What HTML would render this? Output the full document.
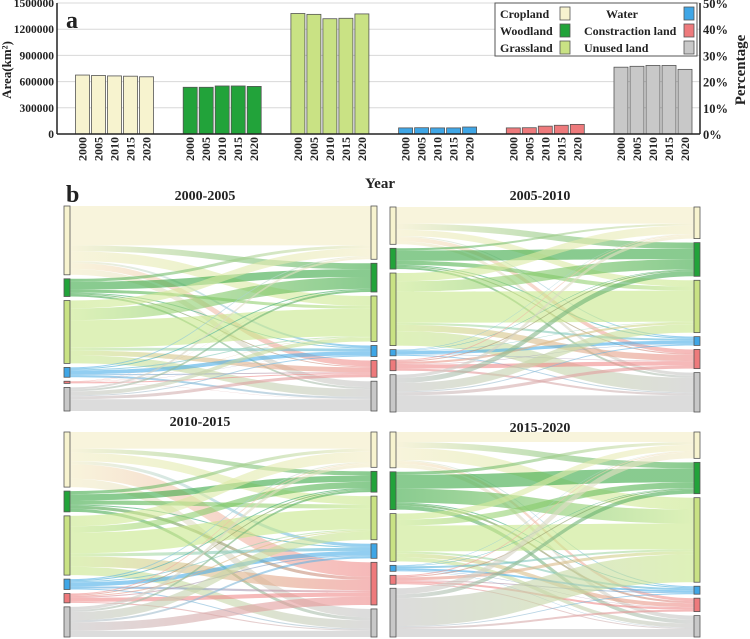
<!DOCTYPE html>
<html><head><meta charset="utf-8"><style>
body{margin:0;background:#fff;}
svg{display:block;font-family:"Liberation Serif",serif;}
</style></head><body>
<svg id="chart" width="750" height="639" viewBox="0 0 750 639">
<g id="topG"></g>
<g id="bottomG"></g>
</svg>
<script>
const categories = ["Cropland","Woodland","Grassland","Water","Constraction land","Unused  land"];
const years = ["2000","2005","2010","2015","2020"];
const croplandValues = [675000,670000,665000,662000,655000];
const woodlandValues = [535000,535000,550000,550000,545000];
const grasslandValues = [1380000,1370000,1320000,1325000,1375000];
const waterValues = [70000,72000,70000,70000,80000];
const constructionValues = [70000,72000,90000,100000,110000];
const unusedValues = [765000,775000,785000,785000,740000];
const leftTicks = [0,300000,600000,900000,1200000,1500000];
const rightTicks = ["0%","10%","20%","30%","40%","50%"];
const colors = ["#f7f3cf","#22a33a","#c9e284","#3fa6e6","#ee7a7c","#c8c8c8"];
const flowColors = ["#f3ecc4","#3aa845","#c8e88a","#4aaee8","#ef8a8a","#c4c4c4"];

const panelTitles = ["2000-2005","2005-2010","2010-2015","2015-2020"];
const flows0 = [[40,6,10,2,6,6],[3,8,3,1,1,2],[8,12,28,3,5,8],[1,1,1,4,1,2],[0.2,0.2,0.3,0.2,1,0.3],[2,2,4,1,3,12]];
const flows1 = [[16,6,6,1,4,3],[2,10,4,1,1,2],[8,10,30,2,6,14],[0.5,0.5,0.5,3,0.5,1],[1,1,2,0.5,4,2],[3,5,8,1,3,16]];
const flows2 = [[16,4,8,3,14,8],[3,6,4,1,3,3],[10,6,20,3,10,8],[1,1,1,4,2,1],[1,1,1,1,4,1],[3,2,8,2,8,6]];
const flows3 = [[10,6,12,1,3,4],[3,14,14,1,2,4],[6,6,26,2,4,4],[0.5,0.5,2,2,0.5,0.5],[1,1,3,1,2,1],[6,4,28,1,2,8]];
const allFlows = [flows0,flows1,flows2,flows3];

const NS="http://www.w3.org/2000/svg";
function mk(tag,attrs,parent,text){const e=document.createElementNS(NS,tag);for(const k in attrs)e.setAttribute(k,attrs[k]);if(text!==undefined)e.textContent=text;parent.appendChild(e);return e;}

const topG=document.getElementById('topG');
const X0=57,X1=700,Y0=134,Y1=3,VMAX=1500000;
const yS=v=>Y0-(v/VMAX)*(Y0-Y1);
leftTicks.forEach((t,i)=>{
  const y=yS(t);
  if(i>0){const g=mk('line',{x1:X0,x2:X1,y1:y,y2:y,stroke:'#d8d8d8','stroke-width':1},topG);
  
  }
  const l=mk('text',{x:54,y:y+4,'text-anchor':'end','font-size':11.5,'font-weight':'bold',fill:'#222'},topG,String(t));
  
  
  const r=mk('text',{x:703,y:y+5,'font-size':12.5,'font-weight':'bold',fill:'#222'},topG,rightTicks[i]);
  
  
});
const series=[croplandValues,woodlandValues,grasslandValues,waterValues,constructionValues,unusedValues];
series.forEach((vals,gi)=>{
  const gx=75.5+gi*107.7;
  vals.forEach((v,yi)=>{
    const x=gx+yi*16;
    const b=mk('rect',{x:x,y:yS(v),width:14,height:Y0-yS(v),fill:colors[gi],stroke:'#555','stroke-width':0.8},topG);
    
    
    const t=mk('text',{transform:`translate(${x+11},137) rotate(-90)`,'text-anchor':'end','font-size':12,'font-weight':'bold',fill:'#222'},topG,years[yi]);
    
    
  });
});
const la=mk('line',{x1:X0,x2:X0,y1:Y1,y2:Y0,stroke:'#222','stroke-width':1.5},topG);


const ra=mk('line',{x1:X1,x2:X1,y1:Y1,y2:Y0,stroke:'#222','stroke-width':1.5},topG);


const xa=mk('line',{x1:X0,x2:X1,y1:Y0,y2:Y0,stroke:'#222','stroke-width':1.5},topG);


const yt=mk('text',{transform:'translate(11,70) rotate(-90)','text-anchor':'middle','font-size':13,'font-weight':'bold',fill:'#222'},topG,'Area(km²)');


const rt=mk('text',{transform:'translate(745,70) rotate(-90)','text-anchor':'middle','font-size':15,'font-weight':'bold',fill:'#222'},topG,'Percentage');


const xt=mk('text',{x:380,y:188,'text-anchor':'middle','font-size':15,'font-weight':'bold',fill:'#222'},topG,'Year');


const pa=mk('text',{x:66,y:28,'font-size':24,'font-weight':'bold',fill:'#222'},topG,'a');


const lg=mk('g',{},topG);


mk('rect',{x:495,y:3,width:202,height:53,fill:'#fff',stroke:'#555','stroke-width':1},lg);
categories.forEach((c,i)=>{
  const col=Math.floor(i/3),row=i%3;
  const ty=18+row*17;
  const tx=col===0?500:i===3?606:584;
  const t=mk('text',{x:tx,y:ty,'font-size':12,'font-weight':'bold',fill:'#222'},lg,c);
  
  
  const sx=col===0?560:684;
  const s=mk('rect',{x:sx,y:ty-11,width:10,height:13,fill:colors[i],stroke:'#555','stroke-width':0.8},lg);
  
  
});

const bottomG=document.getElementById('bottomG');
const defs=mk('defs',{},bottomG);
for(let i=0;i<6;i++)for(let j=0;j<6;j++){
  const g=mk('linearGradient',{id:`g${i}_${j}`,x1:'0',x2:'1',y1:'0',y2:'0'},defs);
  mk('stop',{offset:'0','stop-color':flowColors[i]},g);
  mk('stop',{offset:'1','stop-color':flowColors[j]},g);
}
const panelBox=[[64,371,206,411],[390,694,207,412],[64,371,432,637],[390,694,432,637]];
const titlePos=[[205,200],[540,200],[200,426],[540,432]];
allFlows.forEach((M,p)=>{
  const [lx,rx,ty0,ty1]=panelBox[p];
  const g=mk('g',{},bottomG);
  
  
  const total=M.flat().reduce((a,b)=>a+b,0);
  const gap=4,avail=(ty1-ty0)-gap*5,k=avail/total;
  const rowSum=M.map(r=>r.reduce((a,b)=>a+b,0));
  const colSum=M[0].map((_,j)=>M.reduce((a,r)=>a+r[j],0));
  const lTop=[],rTop=[];let y=ty0;rowSum.forEach(s=>{lTop.push(y);y+=s*k+gap;});
  y=ty0;colSum.forEach(s=>{rTop.push(y);y+=s*k+gap;});
  const x0=lx+6,x1=rx,mx=(x0+x1)/2;
  const rO=rTop.slice();const tgt=[];
  for(let j=0;j<6;j++)for(let i=0;i<6;i++){tgt[i*6+j]=rO[j];rO[j]+=M[i][j]*k;}
  const lO=lTop.slice();
  for(let i=0;i<6;i++)for(let j=0;j<6;j++){
    const h=M[i][j]*k;const a=lO[i];lO[i]+=h;const b=tgt[i*6+j];
    const d=`M${x0},${a}C${mx},${a} ${mx},${b} ${x1},${b}L${x1},${b+h}C${mx},${b+h} ${mx},${a+h} ${x0},${a+h}Z`;
    const f=mk('path',{d:d,fill:`url(#g${i}_${j})`,'fill-opacity':0.6},g);
    
    
  }
  for(let i=0;i<6;i++){
    const n=mk('rect',{x:lx,y:lTop[i],width:6,height:Math.max(1,rowSum[i]*k),fill:colors[i],stroke:'#555','stroke-width':0.8},g);
    
    
    const m=mk('rect',{x:rx,y:rTop[i],width:6,height:Math.max(1,colSum[i]*k),fill:colors[i],stroke:'#555','stroke-width':0.8},g);
    
    
  }
  const t=mk('text',{x:titlePos[p][0],y:titlePos[p][1],'text-anchor':'middle','font-size':14,'font-weight':'bold',fill:'#222'},g,panelTitles[p]);
  
  
});
const pb=mk('text',{x:66,y:202,'font-size':24,'font-weight':'bold',fill:'#222'},bottomG,'b');


</script>
</body></html>
